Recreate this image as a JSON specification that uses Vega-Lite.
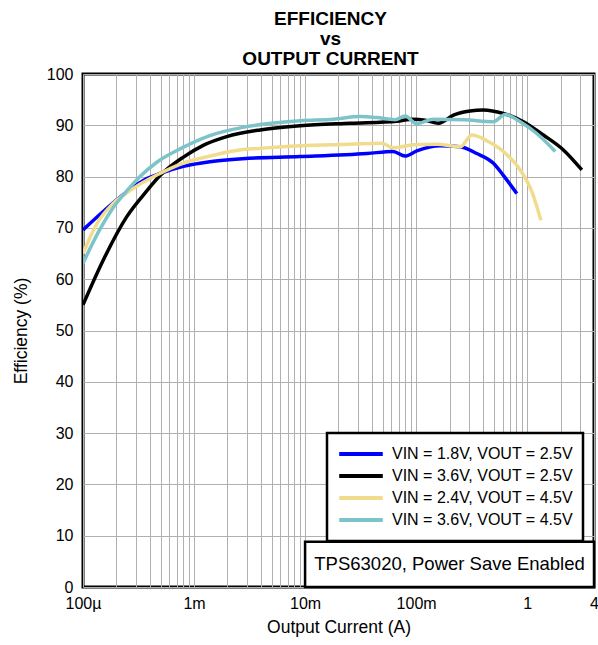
{
  "$schema": "https://vega.github.io/schema/vega-lite/v6.json",
  "width": 511,
  "height": 513,
  "autosize": {"type": "none"},
  "padding": {"left": 83, "top": 74, "right": 4, "bottom": 58},
  "title": {
    "text": ["EFFICIENCY", "vs", "OUTPUT CURRENT"],
    "font": "Liberation Sans",
    "fontSize": 19,
    "fontWeight": "bold",
    "lineHeight": 20,
    "offset": -3,
    "anchor": "middle",
    "dx": -8,
    "color": "#000000"
  },
  "config": {
    "view": {"stroke": "#000000", "strokeWidth": 3},
    "font": "Liberation Sans",
    "axis": {
      "labelFont": "Liberation Sans",
      "titleFont": "Liberation Sans",
      "labelFontSize": 16,
      "titleFontSize": 17.5,
      "titleFontWeight": "normal",
      "labelColor": "#000000",
      "titleColor": "#000000",
      "domain": false,
      "ticks": false,
      "gridColor": "#b0b0b0",
      "gridWidth": 1,
      "gridOpacity": 1
    },
    "legend": {
      "orient": "none",
      "legendX": 244,
      "legendY": 359,
      "strokeColor": "#000000",
      "strokeWidth": 2.5,
      "fillColor": "#ffffff",
      "padding": 10,
      "labelFont": "Liberation Sans",
      "labelFontSize": 16,
      "labelColor": "#000000",
      "labelLimit": 400,
      "symbolType": "stroke",
      "symbolStrokeWidth": 4,
      "symbolSize": 1900,
      "clipHeight": 22,
      "rowPadding": 0,
      "labelOffset": 7
    }
  },
  "data": {
    "values": [
      {"series": "VIN = 1.8V, VOUT = 2.5V", "current": 0.0001, "efficiency": 69.6},
      {"series": "VIN = 1.8V, VOUT = 2.5V", "current": 0.000152, "efficiency": 73.2},
      {"series": "VIN = 1.8V, VOUT = 2.5V", "current": 0.000248, "efficiency": 77.0},
      {"series": "VIN = 1.8V, VOUT = 2.5V", "current": 0.000375, "efficiency": 79.6},
      {"series": "VIN = 1.8V, VOUT = 2.5V", "current": 0.000494, "efficiency": 80.6},
      {"series": "VIN = 1.8V, VOUT = 2.5V", "current": 0.000802, "efficiency": 82.0},
      {"series": "VIN = 1.8V, VOUT = 2.5V", "current": 0.00139, "efficiency": 82.9},
      {"series": "VIN = 1.8V, VOUT = 2.5V", "current": 0.00275, "efficiency": 83.5},
      {"series": "VIN = 1.8V, VOUT = 2.5V", "current": 0.009, "efficiency": 83.9},
      {"series": "VIN = 1.8V, VOUT = 2.5V", "current": 0.0362, "efficiency": 84.5},
      {"series": "VIN = 1.8V, VOUT = 2.5V", "current": 0.062, "efficiency": 84.9},
      {"series": "VIN = 1.8V, VOUT = 2.5V", "current": 0.0796, "efficiency": 84.0},
      {"series": "VIN = 1.8V, VOUT = 2.5V", "current": 0.1015, "efficiency": 85.0},
      {"series": "VIN = 1.8V, VOUT = 2.5V", "current": 0.164, "efficiency": 86.0},
      {"series": "VIN = 1.8V, VOUT = 2.5V", "current": 0.249, "efficiency": 85.8},
      {"series": "VIN = 1.8V, VOUT = 2.5V", "current": 0.352, "efficiency": 84.5},
      {"series": "VIN = 1.8V, VOUT = 2.5V", "current": 0.497, "efficiency": 82.6},
      {"series": "VIN = 1.8V, VOUT = 2.5V", "current": 0.608, "efficiency": 80.3},
      {"series": "VIN = 1.8V, VOUT = 2.5V", "current": 0.807, "efficiency": 76.7},

      {"series": "VIN = 3.6V, VOUT = 2.5V", "current": 0.0001, "efficiency": 55.0},
      {"series": "VIN = 3.6V, VOUT = 2.5V", "current": 0.000152, "efficiency": 63.7},
      {"series": "VIN = 3.6V, VOUT = 2.5V", "current": 0.000248, "efficiency": 72.2},
      {"series": "VIN = 3.6V, VOUT = 2.5V", "current": 0.000375, "efficiency": 77.2},
      {"series": "VIN = 3.6V, VOUT = 2.5V", "current": 0.000494, "efficiency": 80.2},
      {"series": "VIN = 3.6V, VOUT = 2.5V", "current": 0.000802, "efficiency": 83.8},
      {"series": "VIN = 3.6V, VOUT = 2.5V", "current": 0.00121, "efficiency": 86.1},
      {"series": "VIN = 3.6V, VOUT = 2.5V", "current": 0.00197, "efficiency": 87.8},
      {"series": "VIN = 3.6V, VOUT = 2.5V", "current": 0.00394, "efficiency": 89.1},
      {"series": "VIN = 3.6V, VOUT = 2.5V", "current": 0.009, "efficiency": 89.9},
      {"series": "VIN = 3.6V, VOUT = 2.5V", "current": 0.0254, "efficiency": 90.4},
      {"series": "VIN = 3.6V, VOUT = 2.5V", "current": 0.067, "efficiency": 90.8},
      {"series": "VIN = 3.6V, VOUT = 2.5V", "current": 0.0946, "efficiency": 91.2},
      {"series": "VIN = 3.6V, VOUT = 2.5V", "current": 0.1206, "efficiency": 91.0},
      {"series": "VIN = 3.6V, VOUT = 2.5V", "current": 0.159, "efficiency": 90.4},
      {"series": "VIN = 3.6V, VOUT = 2.5V", "current": 0.217, "efficiency": 92.0},
      {"series": "VIN = 3.6V, VOUT = 2.5V", "current": 0.306, "efficiency": 92.8},
      {"series": "VIN = 3.6V, VOUT = 2.5V", "current": 0.404, "efficiency": 93.0},
      {"series": "VIN = 3.6V, VOUT = 2.5V", "current": 0.611, "efficiency": 92.3},
      {"series": "VIN = 3.6V, VOUT = 2.5V", "current": 0.926, "efficiency": 90.7},
      {"series": "VIN = 3.6V, VOUT = 2.5V", "current": 1.4, "efficiency": 88.1},
      {"series": "VIN = 3.6V, VOUT = 2.5V", "current": 2.12, "efficiency": 85.2},
      {"series": "VIN = 3.6V, VOUT = 2.5V", "current": 3.11, "efficiency": 81.3},

      {"series": "VIN = 2.4V, VOUT = 4.5V", "current": 0.0001, "efficiency": 65.0},
      {"series": "VIN = 2.4V, VOUT = 4.5V", "current": 0.000133, "efficiency": 70.8},
      {"series": "VIN = 2.4V, VOUT = 4.5V", "current": 0.0001875, "efficiency": 74.8},
      {"series": "VIN = 2.4V, VOUT = 4.5V", "current": 0.000284, "efficiency": 77.7},
      {"series": "VIN = 2.4V, VOUT = 4.5V", "current": 0.000462, "efficiency": 80.3},
      {"series": "VIN = 2.4V, VOUT = 4.5V", "current": 0.000748, "efficiency": 82.4},
      {"series": "VIN = 2.4V, VOUT = 4.5V", "current": 0.00139, "efficiency": 84.0},
      {"series": "VIN = 2.4V, VOUT = 4.5V", "current": 0.00226, "efficiency": 85.0},
      {"series": "VIN = 2.4V, VOUT = 4.5V", "current": 0.00452, "efficiency": 85.6},
      {"series": "VIN = 2.4V, VOUT = 4.5V", "current": 0.009, "efficiency": 86.0},
      {"series": "VIN = 2.4V, VOUT = 4.5V", "current": 0.0254, "efficiency": 86.3},
      {"series": "VIN = 2.4V, VOUT = 4.5V", "current": 0.0491, "efficiency": 86.5},
      {"series": "VIN = 2.4V, VOUT = 4.5V", "current": 0.062, "efficiency": 85.6},
      {"series": "VIN = 2.4V, VOUT = 4.5V", "current": 0.0946, "efficiency": 86.2},
      {"series": "VIN = 2.4V, VOUT = 4.5V", "current": 0.1535, "efficiency": 86.3},
      {"series": "VIN = 2.4V, VOUT = 4.5V", "current": 0.249, "efficiency": 85.8},
      {"series": "VIN = 2.4V, VOUT = 4.5V", "current": 0.318, "efficiency": 88.1},
      {"series": "VIN = 2.4V, VOUT = 4.5V", "current": 0.433, "efficiency": 87.0},
      {"series": "VIN = 2.4V, VOUT = 4.5V", "current": 0.611, "efficiency": 84.9},
      {"series": "VIN = 2.4V, VOUT = 4.5V", "current": 0.865, "efficiency": 81.3},
      {"series": "VIN = 2.4V, VOUT = 4.5V", "current": 1.1, "efficiency": 77.1},
      {"series": "VIN = 2.4V, VOUT = 4.5V", "current": 1.33, "efficiency": 71.5},

      {"series": "VIN = 3.6V, VOUT = 4.5V", "current": 0.0001, "efficiency": 63.1},
      {"series": "VIN = 3.6V, VOUT = 4.5V", "current": 0.000141, "efficiency": 69.6},
      {"series": "VIN = 3.6V, VOUT = 4.5V", "current": 0.0001875, "efficiency": 74.0},
      {"series": "VIN = 3.6V, VOUT = 4.5V", "current": 0.000248, "efficiency": 77.2},
      {"series": "VIN = 3.6V, VOUT = 4.5V", "current": 0.000326, "efficiency": 80.0},
      {"series": "VIN = 3.6V, VOUT = 4.5V", "current": 0.000462, "efficiency": 82.8},
      {"series": "VIN = 3.6V, VOUT = 4.5V", "current": 0.000748, "efficiency": 85.4},
      {"series": "VIN = 3.6V, VOUT = 4.5V", "current": 0.00139, "efficiency": 88.0},
      {"series": "VIN = 3.6V, VOUT = 4.5V", "current": 0.00275, "efficiency": 89.6},
      {"series": "VIN = 3.6V, VOUT = 4.5V", "current": 0.00452, "efficiency": 90.3},
      {"series": "VIN = 3.6V, VOUT = 4.5V", "current": 0.009, "efficiency": 90.9},
      {"series": "VIN = 3.6V, VOUT = 4.5V", "current": 0.018, "efficiency": 91.2},
      {"series": "VIN = 3.6V, VOUT = 4.5V", "current": 0.0313, "efficiency": 91.7},
      {"series": "VIN = 3.6V, VOUT = 4.5V", "current": 0.0442, "efficiency": 91.5},
      {"series": "VIN = 3.6V, VOUT = 4.5V", "current": 0.0647, "efficiency": 91.1},
      {"series": "VIN = 3.6V, VOUT = 4.5V", "current": 0.0796, "efficiency": 91.8},
      {"series": "VIN = 3.6V, VOUT = 4.5V", "current": 0.1015, "efficiency": 90.3},
      {"series": "VIN = 3.6V, VOUT = 4.5V", "current": 0.142, "efficiency": 91.2},
      {"series": "VIN = 3.6V, VOUT = 4.5V", "current": 0.267, "efficiency": 91.1},
      {"series": "VIN = 3.6V, VOUT = 4.5V", "current": 0.497, "efficiency": 90.7},
      {"series": "VIN = 3.6V, VOUT = 4.5V", "current": 0.634, "efficiency": 92.1},
      {"series": "VIN = 3.6V, VOUT = 4.5V", "current": 0.865, "efficiency": 90.7},
      {"series": "VIN = 3.6V, VOUT = 4.5V", "current": 1.22, "efficiency": 88.4},
      {"series": "VIN = 3.6V, VOUT = 4.5V", "current": 1.79, "efficiency": 84.9}
    ]
  },
  "layer": [
    {
      "mark": {"type": "line", "strokeWidth": 3.5, "interpolate": "monotone", "clip": true},
      "encoding": {
        "x": {
          "field": "current",
          "type": "quantitative",
          "scale": {"type": "log", "domain": [0.0001, 4], "nice": false},
          "axis": {
            "title": "Output Current (A)",
            "values": [0.0001, 0.0002, 0.0003, 0.0004, 0.0005, 0.0006, 0.0007, 0.0008, 0.0009, 0.001, 0.002, 0.003, 0.004, 0.005, 0.006, 0.007, 0.008, 0.009, 0.01, 0.02, 0.03, 0.04, 0.05, 0.06, 0.07, 0.08, 0.09, 0.1, 0.2, 0.3, 0.4, 0.5, 0.6, 0.7, 0.8, 0.9, 1, 2, 3, 4],
            "labelExpr": "datum.value == 0.0001 ? '100µ' : datum.value == 0.001 ? '1m' : datum.value == 0.01 ? '10m' : datum.value == 0.1 ? '100m' : datum.value == 1 ? '1' : datum.value == 4 ? '4' : ''",
            "labelPadding": 8,
            "titlePadding": 7,
            "labelOverlap": false,
            "labelFlush": false
          }
        },
        "y": {
          "field": "efficiency",
          "type": "quantitative",
          "scale": {"domain": [0, 100], "nice": false},
          "axis": {
            "title": "Efficiency (%)",
            "values": [0, 10, 20, 30, 40, 50, 60, 70, 80, 90, 100],
            "labelPadding": 10,
            "titlePadding": 16
          }
        },
        "color": {
          "field": "series",
          "type": "nominal",
          "sort": null,
          "scale": {
            "domain": ["VIN = 1.8V, VOUT = 2.5V", "VIN = 3.6V, VOUT = 2.5V", "VIN = 2.4V, VOUT = 4.5V", "VIN = 3.6V, VOUT = 4.5V"],
            "range": ["#0000ff", "#000000", "#f0dc8c", "#7cc4ca"]
          },
          "legend": {"title": null}
        }
      }
    },
    {
      "data": {"values": [{"note": "TPS63020, Power Save Enabled"}]},
      "mark": {"type": "rect", "fill": "#ffffff", "stroke": "#000000", "strokeWidth": 2.5},
      "encoding": {
        "x": {"datum": 0.01, "type": "quantitative"},
        "x2": {"datum": 4},
        "y": {"datum": 0, "type": "quantitative"},
        "y2": {"datum": 8.8}
      }
    },
    {
      "data": {"values": [{"note": "TPS63020, Power Save Enabled"}]},
      "mark": {"type": "text", "font": "Liberation Sans", "fontSize": 18.5, "fill": "#000000", "align": "center", "baseline": "middle"},
      "encoding": {
        "x": {"datum": 0.2, "type": "quantitative"},
        "y": {"datum": 4.4, "type": "quantitative"},
        "text": {"field": "note", "type": "nominal"}
      }
    }
  ]
}
